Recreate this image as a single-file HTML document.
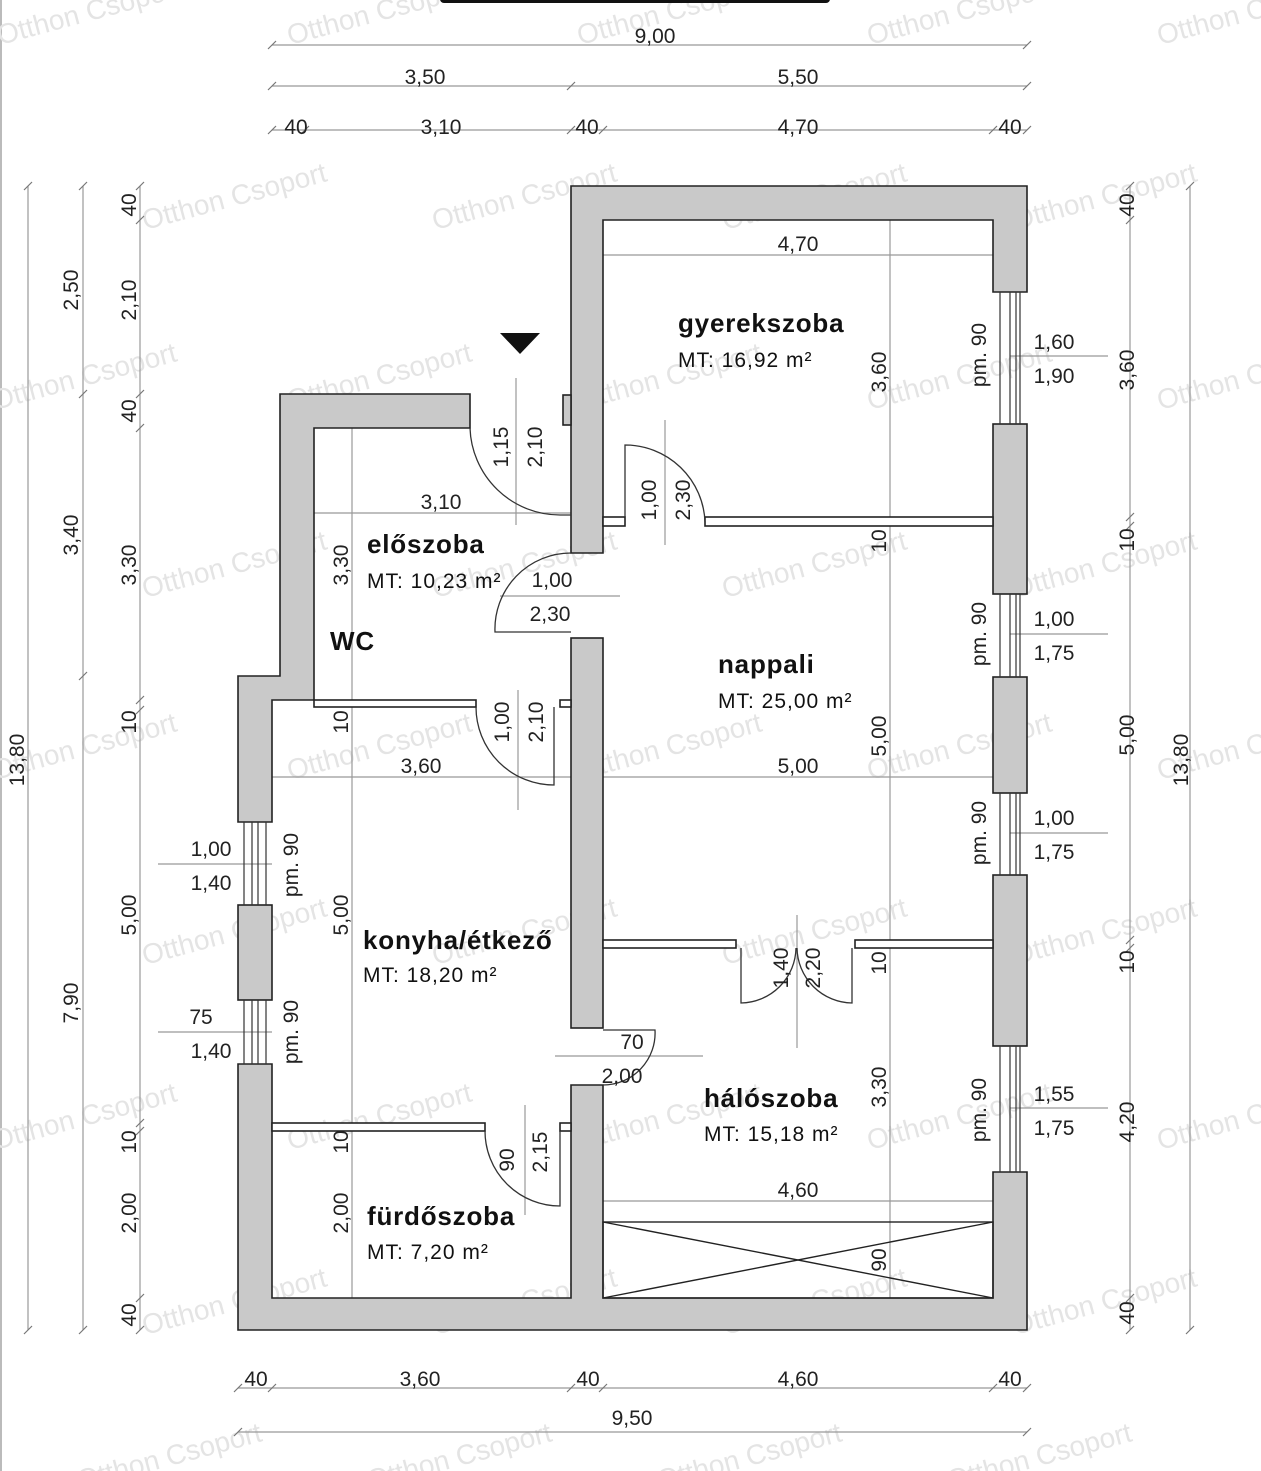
<!DOCTYPE html>
<html><head><meta charset="utf-8"><style>
html,body{margin:0;padding:0;background:#fff;}
svg{display:block;}
text{font-family:"Liberation Sans",sans-serif;}
.d{font-size:21px;fill:#222;text-anchor:middle;}
.rn{font-size:26px;font-weight:bold;fill:#111;letter-spacing:0.8px;}
.mt{font-size:21px;fill:#111;letter-spacing:1px;}
.w{fill:#c9c9c9;stroke:#222;stroke-width:1.6;}
.p{fill:#fff;stroke:#222;stroke-width:1.6;}
.dl{stroke:#999;stroke-width:1.2;fill:none;}
.dr{stroke:#333;stroke-width:1.3;fill:none;}
.wm{font-size:28px;fill:#e4e4e4;}
.tk{stroke:#777;stroke-width:1.2;}
</style></head><body>
<svg width="1261" height="1471" viewBox="0 0 1261 1471" xmlns="http://www.w3.org/2000/svg">
<rect x="0" y="0" width="1261" height="1471" fill="#fff"/>
<line x1="1" y1="0" x2="1" y2="1471" stroke="#bbb" stroke-width="2"/>

<!-- watermarks -->
<g class="wm">
<text transform="translate(145,230) rotate(-15)">Otthon Csoport</text>
<text transform="translate(435,230) rotate(-15)">Otthon Csoport</text>
<text transform="translate(725,230) rotate(-15)">Otthon Csoport</text>
<text transform="translate(1015,230) rotate(-15)">Otthon Csoport</text>
<text transform="translate(-5,410) rotate(-15)">Otthon Csoport</text>
<text transform="translate(290,410) rotate(-15)">Otthon Csoport</text>
<text transform="translate(580,410) rotate(-15)">Otthon Csoport</text>
<text transform="translate(870,410) rotate(-15)">Otthon Csoport</text>
<text transform="translate(1160,410) rotate(-15)">Otthon Csoport</text>
<text transform="translate(145,598) rotate(-15)">Otthon Csoport</text>
<text transform="translate(435,598) rotate(-15)">Otthon Csoport</text>
<text transform="translate(725,598) rotate(-15)">Otthon Csoport</text>
<text transform="translate(1015,598) rotate(-15)">Otthon Csoport</text>
<text transform="translate(-5,780) rotate(-15)">Otthon Csoport</text>
<text transform="translate(290,780) rotate(-15)">Otthon Csoport</text>
<text transform="translate(580,780) rotate(-15)">Otthon Csoport</text>
<text transform="translate(870,780) rotate(-15)">Otthon Csoport</text>
<text transform="translate(1160,780) rotate(-15)">Otthon Csoport</text>
<text transform="translate(145,965) rotate(-15)">Otthon Csoport</text>
<text transform="translate(435,965) rotate(-15)">Otthon Csoport</text>
<text transform="translate(725,965) rotate(-15)">Otthon Csoport</text>
<text transform="translate(1015,965) rotate(-15)">Otthon Csoport</text>
<text transform="translate(-5,1150) rotate(-15)">Otthon Csoport</text>
<text transform="translate(290,1150) rotate(-15)">Otthon Csoport</text>
<text transform="translate(580,1150) rotate(-15)">Otthon Csoport</text>
<text transform="translate(870,1150) rotate(-15)">Otthon Csoport</text>
<text transform="translate(1160,1150) rotate(-15)">Otthon Csoport</text>
<text transform="translate(145,1335) rotate(-15)">Otthon Csoport</text>
<text transform="translate(435,1335) rotate(-15)">Otthon Csoport</text>
<text transform="translate(725,1335) rotate(-15)">Otthon Csoport</text>
<text transform="translate(1015,1335) rotate(-15)">Otthon Csoport</text>
<text transform="translate(80,1490) rotate(-15)">Otthon Csoport</text>
<text transform="translate(370,1490) rotate(-15)">Otthon Csoport</text>
<text transform="translate(660,1490) rotate(-15)">Otthon Csoport</text>
<text transform="translate(950,1490) rotate(-15)">Otthon Csoport</text>
<text transform="translate(290,45) rotate(-15)">Otthon Csoport</text>
<text transform="translate(580,45) rotate(-15)">Otthon Csoport</text>
<text transform="translate(870,45) rotate(-15)">Otthon Csoport</text>
<text transform="translate(1160,45) rotate(-15)">Otthon Csoport</text>
<text transform="translate(0,45) rotate(-15)">Otthon Csoport</text>
</g>
<rect x="440" y="-6" width="390" height="9" rx="4" fill="#111"/>

<!-- dimension lines -->
<g class="dl">
<line x1="272" y1="45" x2="1027" y2="45"/>
<line x1="272" y1="86" x2="1027" y2="86"/>
<line x1="272" y1="130" x2="1027" y2="130"/>
<line x1="238" y1="1388" x2="1027" y2="1388"/>
<line x1="238" y1="1432" x2="1027" y2="1432"/>
<line x1="28" y1="186" x2="28" y2="1330"/>
<line x1="83" y1="186" x2="83" y2="1330"/>
<line x1="140" y1="186" x2="140" y2="1330"/>
<line x1="1130" y1="186" x2="1130" y2="1330"/>
<line x1="1190" y1="186" x2="1190" y2="1330"/>
<line x1="890" y1="220" x2="890" y2="1298"/>
<line x1="352" y1="428" x2="352" y2="1298"/>
<line x1="603" y1="255" x2="993" y2="255"/>
<line x1="314" y1="513" x2="571" y2="513"/>
<line x1="272" y1="777" x2="571" y2="777"/>
<line x1="603" y1="777" x2="993" y2="777"/>
<line x1="603" y1="1201" x2="993" y2="1201"/>
<line x1="1010" y1="356" x2="1108" y2="356"/>
<line x1="1010" y1="634" x2="1108" y2="634"/>
<line x1="1010" y1="833" x2="1108" y2="833"/>
<line x1="1010" y1="1108" x2="1108" y2="1108"/>
<line x1="158" y1="864" x2="272" y2="864"/>
<line x1="158" y1="1032" x2="272" y2="1032"/>
<line x1="500" y1="596" x2="620" y2="596"/>
<line x1="555" y1="1056" x2="703" y2="1056"/>
<line x1="516" y1="378" x2="516" y2="525"/>
<line x1="665" y1="420" x2="665" y2="545"/>
<line x1="518" y1="690" x2="518" y2="810"/>
<line x1="797" y1="915" x2="797" y2="1048"/>
<line x1="525" y1="1105" x2="525" y2="1215"/>
</g>
<g class="tk">
<path d="M268 49l8-8M1023 49l8-8M268 90l8-8M567 90l8-8M1023 90l8-8M268 134l8-8M301 134l8-8M567 134l8-8M599 134l8-8M989 134l8-8M1023 134l8-8
M234 1392l8-8M268 1392l8-8M567 1392l8-8M599 1392l8-8M989 1392l8-8M1023 1392l8-8M234 1436l8-8M1023 1436l8-8
M24 190l8-8M24 1334l8-8M79 190l8-8M79 398l8-8M79 680l8-8M79 1334l8-8
M136 190l8-8M136 224l8-8M136 398l8-8M136 432l8-8M136 704l8-8M136 714l8-8M136 1127l8-8M136 1135l8-8M136 1302l8-8M136 1334l8-8
M1126 190l8-8M1126 224l8-8M1126 521l8-8M1126 530l8-8M1126 944l8-8M1126 952l8-8M1126 1302l8-8M1126 1334l8-8
M1186 190l8-8M1186 1334l8-8"/>
</g>

<!-- walls -->
<polygon class="w" points="571,186 1027,186 1027,292 993,292 993,220 603,220 603,553 571,553"/>
<rect class="w" x="993" y="424" width="34" height="170"/>
<rect class="w" x="993" y="677" width="34" height="116"/>
<rect class="w" x="993" y="875" width="34" height="171"/>
<rect class="w" x="563" y="395" width="8" height="30"/>
<rect class="w" x="571" y="638" width="32" height="390"/>
<polygon class="w" points="238,1064 272,1064 272,1298 571,1298 571,1085 603,1085 603,1298 993,1298 993,1172 1027,1172 1027,1330 238,1330"/>
<rect class="w" x="238" y="905" width="34" height="95"/>
<polygon class="w" points="280,394 470,394 470,428 314,428 314,700 272,700 272,822 238,822 238,676 280,676"/>
<!-- windows -->
<g stroke="#333" stroke-width="1.2">
<line x1="1010" y1="292" x2="1010" y2="424"/><line x1="1016" y1="292" x2="1016" y2="424"/><line x1="1000" y1="292" x2="1000" y2="424"/><line x1="1020" y1="292" x2="1020" y2="424"/>
<line x1="1010" y1="594" x2="1010" y2="677"/><line x1="1016" y1="594" x2="1016" y2="677"/><line x1="1000" y1="594" x2="1000" y2="677"/><line x1="1020" y1="594" x2="1020" y2="677"/>
<line x1="1010" y1="793" x2="1010" y2="875"/><line x1="1016" y1="793" x2="1016" y2="875"/><line x1="1000" y1="793" x2="1000" y2="875"/><line x1="1020" y1="793" x2="1020" y2="875"/>
<line x1="1010" y1="1046" x2="1010" y2="1172"/><line x1="1016" y1="1046" x2="1016" y2="1172"/><line x1="1000" y1="1046" x2="1000" y2="1172"/><line x1="1020" y1="1046" x2="1020" y2="1172"/>
<line x1="252" y1="822" x2="252" y2="905"/><line x1="258" y1="822" x2="258" y2="905"/><line x1="244" y1="822" x2="244" y2="905"/><line x1="266" y1="822" x2="266" y2="905"/>
<line x1="252" y1="1000" x2="252" y2="1064"/><line x1="258" y1="1000" x2="258" y2="1064"/><line x1="244" y1="1000" x2="244" y2="1064"/><line x1="266" y1="1000" x2="266" y2="1064"/>
</g>
<!-- partitions -->
<rect class="p" x="603" y="517" width="22" height="9"/>
<rect class="p" x="705" y="517" width="288" height="9"/>
<rect class="p" x="314" y="700" width="162" height="7"/>
<rect class="p" x="560" y="700" width="11" height="7"/>
<rect class="p" x="603" y="940" width="133" height="8"/>
<rect class="p" x="855" y="940" width="138" height="8"/>
<rect class="p" x="272" y="1123" width="213" height="8"/>
<rect class="p" x="560" y="1123" width="11" height="8"/>
<!-- doors -->
<g class="dr">
<path d="M470 428 A90 90 0 0 0 560 515 L571 515"/>
<path d="M625 517 V445 A80 80 0 0 1 705 522"/>
<path d="M571 553 A76 76 0 0 0 495 632 H571"/>
<path d="M476 707 A78 78 0 0 0 554 785 V707"/>
<path d="M741 948 V1003 A56 56 0 0 0 796 948"/>
<path d="M852 948 V1003 A56 56 0 0 1 797 948"/>
<path d="M603 1030 H655 A52 52 0 0 1 603 1085"/>
<path d="M485 1131 A75 75 0 0 0 560 1206 V1131"/>
</g>
<g stroke="#222" stroke-width="1.4" fill="none">
<rect x="603" y="1222" width="390" height="76"/>
<line x1="603" y1="1222" x2="993" y2="1298"/>
<line x1="603" y1="1298" x2="993" y2="1222"/>
</g>
<polygon points="500,333 540,333 520,354" fill="#111"/>

<text class="d" x="655" y="43">9,00</text>
<text class="d" x="425" y="84">3,50</text>
<text class="d" x="798" y="84">5,50</text>
<text class="d" x="296" y="134">40</text>
<text class="d" x="441" y="134">3,10</text>
<text class="d" x="587" y="134">40</text>
<text class="d" x="798" y="134">4,70</text>
<text class="d" x="1010" y="134">40</text>
<text class="d" x="256" y="1386">40</text>
<text class="d" x="420" y="1386">3,60</text>
<text class="d" x="588" y="1386">40</text>
<text class="d" x="798" y="1386">4,60</text>
<text class="d" x="1010" y="1386">40</text>
<text class="d" x="632" y="1425">9,50</text>

<g class="d">
<text transform="translate(24,760) rotate(-90)">13,80</text>
<text transform="translate(78,290) rotate(-90)">2,50</text>
<text transform="translate(78,535) rotate(-90)">3,40</text>
<text transform="translate(78,1003) rotate(-90)">7,90</text>
<text transform="translate(136,205) rotate(-90)">40</text>
<text transform="translate(136,300) rotate(-90)">2,10</text>
<text transform="translate(136,411) rotate(-90)">40</text>
<text transform="translate(136,565) rotate(-90)">3,30</text>
<text transform="translate(136,722) rotate(-90)">10</text>
<text transform="translate(136,915) rotate(-90)">5,00</text>
<text transform="translate(136,1142) rotate(-90)">10</text>
<text transform="translate(136,1213) rotate(-90)">2,00</text>
<text transform="translate(136,1315) rotate(-90)">40</text>
<text transform="translate(1134,205) rotate(-90)">40</text>
<text transform="translate(1134,370) rotate(-90)">3,60</text>
<text transform="translate(1134,540) rotate(-90)">10</text>
<text transform="translate(1134,735) rotate(-90)">5,00</text>
<text transform="translate(1134,962) rotate(-90)">10</text>
<text transform="translate(1134,1122) rotate(-90)">4,20</text>
<text transform="translate(1134,1313) rotate(-90)">40</text>
<text transform="translate(1188,760) rotate(-90)">13,80</text>
<text transform="translate(886,372) rotate(-90)">3,60</text>
<text transform="translate(886,541) rotate(-90)">10</text>
<text transform="translate(886,736) rotate(-90)">5,00</text>
<text transform="translate(886,963) rotate(-90)">10</text>
<text transform="translate(886,1087) rotate(-90)">3,30</text>
<text transform="translate(886,1260) rotate(-90)">90</text>
<text transform="translate(348,565) rotate(-90)">3,30</text>
<text transform="translate(348,722) rotate(-90)">10</text>
<text transform="translate(348,915) rotate(-90)">5,00</text>
<text transform="translate(348,1142) rotate(-90)">10</text>
<text transform="translate(348,1213) rotate(-90)">2,00</text>
<text transform="translate(508,447) rotate(-90)">1,15</text>
<text transform="translate(542,447) rotate(-90)">2,10</text>
<text transform="translate(656,500) rotate(-90)">1,00</text>
<text transform="translate(690,500) rotate(-90)">2,30</text>
<text transform="translate(509,722) rotate(-90)">1,00</text>
<text transform="translate(543,722) rotate(-90)">2,10</text>
<text transform="translate(788,968) rotate(-90)">1,40</text>
<text transform="translate(820,968) rotate(-90)">2,20</text>
<text transform="translate(514,1160) rotate(-90)">90</text>
<text transform="translate(547,1152) rotate(-90)">2,15</text>
<text transform="translate(986,355) rotate(-90)">pm. 90</text>
<text transform="translate(986,634) rotate(-90)">pm. 90</text>
<text transform="translate(986,833) rotate(-90)">pm. 90</text>
<text transform="translate(986,1110) rotate(-90)">pm. 90</text>
<text transform="translate(298,865) rotate(-90)">pm. 90</text>
<text transform="translate(298,1032) rotate(-90)">pm. 90</text>
</g>
<text class="d" x="798" y="251">4,70</text>
<text class="d" x="441" y="509">3,10</text>
<text class="d" x="421" y="773">3,60</text>
<text class="d" x="798" y="773">5,00</text>
<text class="d" x="798" y="1197">4,60</text>
<text class="d" x="552" y="587">1,00</text>
<text class="d" x="550" y="621">2,30</text>
<text class="d" x="632" y="1049">70</text>
<text class="d" x="622" y="1083">2,00</text>
<text class="d" x="1054" y="349">1,60</text>
<text class="d" x="1054" y="383">1,90</text>
<text class="d" x="1054" y="626">1,00</text>
<text class="d" x="1054" y="660">1,75</text>
<text class="d" x="1054" y="825">1,00</text>
<text class="d" x="1054" y="859">1,75</text>
<text class="d" x="1054" y="1101">1,55</text>
<text class="d" x="1054" y="1135">1,75</text>
<text class="d" x="211" y="856">1,00</text>
<text class="d" x="211" y="890">1,40</text>
<text class="d" x="201" y="1024">75</text>
<text class="d" x="211" y="1058">1,40</text>

<text class="rn" x="678" y="332">gyerekszoba</text>
<text class="mt" x="678" y="367">MT: 16,92 m²</text>
<text class="rn" x="367" y="553">előszoba</text>
<text class="mt" x="367" y="588">MT: 10,23 m²</text>
<text class="rn" x="330" y="650">WC</text>
<text class="rn" x="718" y="673">nappali</text>
<text class="mt" x="718" y="708">MT: 25,00 m²</text>
<text class="rn" x="363" y="949">konyha/étkező</text>
<text class="mt" x="363" y="982">MT: 18,20 m²</text>
<text class="rn" x="704" y="1107">hálószoba</text>
<text class="mt" x="704" y="1141">MT: 15,18 m²</text>
<text class="rn" x="367" y="1225">fürdőszoba</text>
<text class="mt" x="367" y="1259">MT: 7,20 m²</text>
</svg>
</body></html>
